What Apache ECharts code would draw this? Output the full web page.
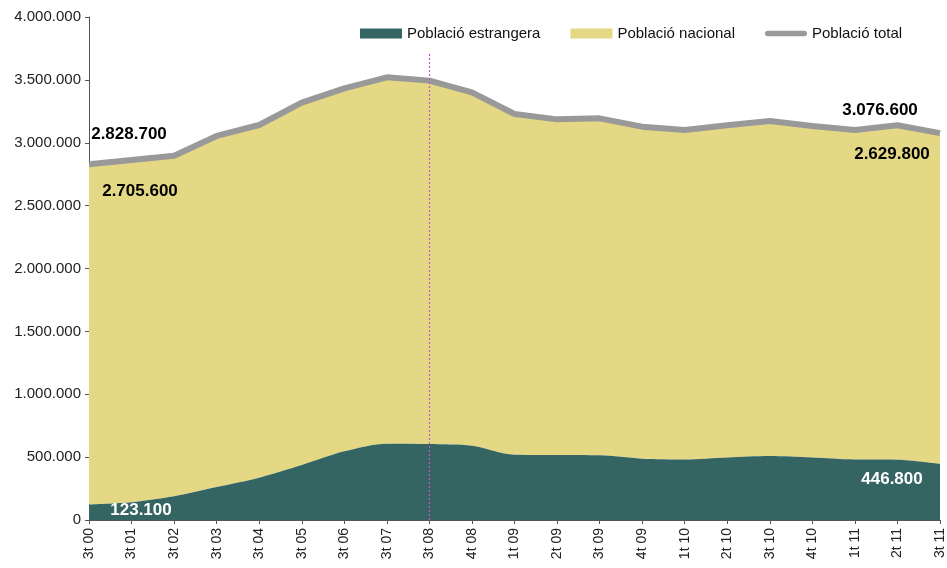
<!DOCTYPE html>
<html>
<head>
<meta charset="utf-8">
<script src="https://cdn.jsdelivr.net/npm/echarts@6/dist/echarts.min.js"></script>
<style>
  html, body { margin: 0; padding: 0; background: #fff; }
  #main { width: 947px; height: 568px; }
</style>
</head>
<body>
<div id="main"></div>
<script>
const quarters = ['3t 00', '3t 01', '3t 02', '3t 03', '3t 04', '3t 05', '3t 06', '3t 07', '3t 08', '4t 08',
  '1t 09', '2t 09', '3t 09', '4t 09', '1t 10', '2t 10', '3t 10', '4t 10', '1t 11', '2t 11', '3t 11']
const foreign = [123100, 141000, 188000, 262000, 336000, 437000, 546000, 607000, 604000, 590000,
  519000, 517000, 514000, 488000, 482000, 498000, 509000, 498000, 482000, 480000, 446800]
const national = [2705600, 2722000, 2709000, 2792000, 2805000, 2882000, 2887000, 2913000, 2890000, 2811000,
  2710000, 2669000, 2680000, 2640000, 2619000, 2641000, 2664000, 2635000, 2619000, 2659000, 2629800]
const total = [2828700, 2863000, 2897000, 3054000, 3141000, 3319000, 3433000, 3520000, 3494000, 3401000,
  3229000, 3186000, 3194000, 3128000, 3101000, 3139000, 3173000, 3133000, 3101000, 3139000, 3076600]
const markerQuarter = '3t 08'

const fmt = v => String(Math.round(v)).replace(/\B(?=(\d{3})+(?!\d))/g, '.')
const font = 'Liberation Sans, Arial, sans-serif'

// only first and last point get a value label
function withEndLabels(values, firstOffset, lastOffset, color) {
  const last = values.length - 1
  return values.map((v, i) => {
    if (i !== 0 && i !== last) return v
    return {
      value: v,
      label: {
        show: true,
        position: 'inside',
        offset: i === 0 ? firstOffset : lastOffset,
        formatter: p => fmt(p.value),
        color: color,
        fontFamily: font,
        fontWeight: 'bold',
        fontSize: 17
      }
    }
  })
}

let myChart = echarts.init(document.getElementById('main'))
let option = {
  animation: false,
  legend: {
    left: 360,
    top: 26,
    padding: 0,
    itemWidth: 42,
    itemHeight: 10,
    itemGap: 30,
    textStyle: { fontFamily: font, fontSize: 15, color: '#111' },
    data: [
      { name: 'Població estrangera', icon: 'rect' },
      { name: 'Població nacional', icon: 'rect' },
      { name: 'Població total', icon: 'path://M3,0h40a3,3 0 0 1 0,6h-40a3,3 0 0 1 0,-6z' }
    ]
  },
  grid: { left: 89, right: 3, top: 17, bottom: 48 },
  xAxis: {
    type: 'category',
    boundaryGap: false,
    data: quarters,
    axisLine: { lineStyle: { color: '#555', width: 1 } },
    axisTick: { length: 4, alignWithLabel: true, lineStyle: { color: '#555' } },
    axisLabel: { rotate: 90, margin: 8, fontFamily: font, fontSize: 14, color: '#222', interval: 0 }
  },
  yAxis: {
    type: 'value',
    min: 0,
    max: 4000000,
    interval: 500000,
    splitLine: { show: false },
    axisLine: { show: true, lineStyle: { color: '#555', width: 1 } },
    axisTick: { show: true, length: 4, lineStyle: { color: '#555' } },
    axisLabel: { margin: 8, fontFamily: font, fontSize: 15, color: '#222', formatter: fmt }
  },
  series: [
    {
      name: 'Població estrangera',
      type: 'line',
      stack: 'pop',
      smooth: 0.3,
      symbolSize: 0,
      lineStyle: { width: 0 },
      itemStyle: { color: '#356563' },
      areaStyle: { color: '#356563', opacity: 1 },
      data: withEndLabels(foreign, [52, 6], [-48, 15], '#fff'),
      markLine: {
        silent: true,
        symbol: 'none',
        label: { show: false },
        lineStyle: { color: '#d050d0', type: [2, 2], width: 1.2, opacity: 1 },
        data: [[{ coord: [markerQuarter, 0] }, { coord: [markerQuarter, 3710000] }]]
      },
      z: 2
    },
    {
      name: 'Població nacional',
      type: 'line',
      stack: 'pop',
      smooth: 0.3,
      symbolSize: 0,
      lineStyle: { width: 0 },
      itemStyle: { color: '#e4d884' },
      areaStyle: { color: '#e4d884', opacity: 1 },
      data: withEndLabels(national, [51, 27], [-48, 21], '#000'),
      z: 1
    },
    {
      name: 'Població total',
      type: 'line',
      symbolSize: 0,
      itemStyle: { color: '#999' },
      lineStyle: { color: '#999', width: 6 },
      data: withEndLabels(total, [40, -30], [-60, -23], '#000'),
      z: 3
    }
  ]
}

option && myChart.setOption(option)
</script>
</body>
</html>
